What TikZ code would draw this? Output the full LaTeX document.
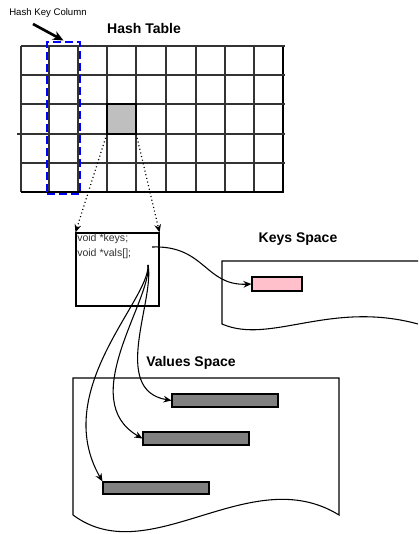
\documentclass[tikz,border=0pt]{standalone}
\usepackage{fontspec}
\setmainfont{Liberation Sans}
\usetikzlibrary{arrows.meta,fit}
\begin{document}
\begin{tikzpicture}[x=0.75pt,y=-0.75pt,
  gridline/.style={line width=1.1pt, black!80},
  title/.style={font=\bfseries\fontsize{10.5}{12}\selectfont, inner sep=0pt},
  small/.style={font=\fontsize{7.2}{8}\selectfont, inner sep=0pt},
  code/.style={font=\fontsize{7.9}{9}\selectfont, text=black!80, inner sep=0pt, anchor=west},
  arr/.style={-{Stealth[length=6pt,width=5pt]}, line width=0.8pt},
  box/.style={draw, line width=0.8pt, inner sep=0pt},
  bar/.style={box, fill=black!50}]
\useasboundingbox (0,0) rectangle (418,534);
\fill[white] (0,0) rectangle (418,534);

% grid
\node[fit={(107,104) (136,134)}, inner sep=0pt, fill=black!25] (cell) {};
\foreach \x in {21,49,78,107,136,166,196,225,254}
  \draw[gridline] (\x,46) -- (\x,192);
\draw[line width=1.6pt] (283,46) -- (283,192);
\foreach \y in {46,75,104,163}
  \draw[gridline] (21,\y) -- (285,\y);
\draw[gridline] (17,134) -- (285,134);
\draw[line width=1.5pt] (21,192) -- (284,192);
\draw[line width=1.3pt] (cell.north west) rectangle (cell.south east);

\node[title] (ht) at (144,29) {Hash Table};

% hash key column
\node[fit={(47,42) (80,194)}, inner sep=0pt, draw=blue, line width=2.2pt, dash pattern=on 6pt off 3pt] (hk) {};
\node[small] (hkc) at (48,13) {Hash Key Column};
\coordinate (hka) at (33,24);
\draw[line width=2pt, -{Stealth[length=8pt,width=7pt]}] (hka) -- (hk.north);

% struct box
\node[box, fit={(76,233) (159,306)}] (sbox) {};
\node[code] (keys) at (77,239) {void *keys;};
\node[code] (vals) at (77,254) {void *vals[];};
\draw[arr, dotted, line width=0.9pt] (cell.south west) -- (sbox.north west);
\draw[arr, dotted, line width=0.9pt] (cell.south east) -- (sbox.north east);

% keys space
\node[title] (ks) at (298,239) {Keys Space};
\draw[line width=0.8pt] (418,261) -- (222,261) -- (222,324) .. controls (270,345) and (330,300) .. (418,324);
\node[box, fill={rgb,255:red,255;green,192;blue,203}, fit={(252,277) (302,291)}] (pink) {};
\coordinate (kstart) at (152,247);
\draw[arr] (kstart) .. controls (205,245) and (205,286) .. (pink.west);

% values space
\node[title] (vs) at (191,363) {Values Space};
\draw[line width=0.8pt] (73,515) -- (73,378) -- (339,378) -- (339,515) .. controls (250,460) and (150,572) .. (73,515);
\node[bar, fit={(172,394) (278,407)}] (bar1) {};
\node[bar, fit={(143,432) (249,445)}] (bar2) {};
\node[bar, fit={(103,482) (209,494)}] (bar3) {};
\coordinate (vstart) at (148,265);
\draw[arr] (vstart) .. controls (155,300) and (110,390) .. (bar1.west);
\draw[arr] (vstart) .. controls (152,300) and (75,400) .. (bar2.west);
\draw[arr] (vstart) .. controls (150,300) and (50,390) .. (bar3.north west);
\end{tikzpicture}
\end{document}
